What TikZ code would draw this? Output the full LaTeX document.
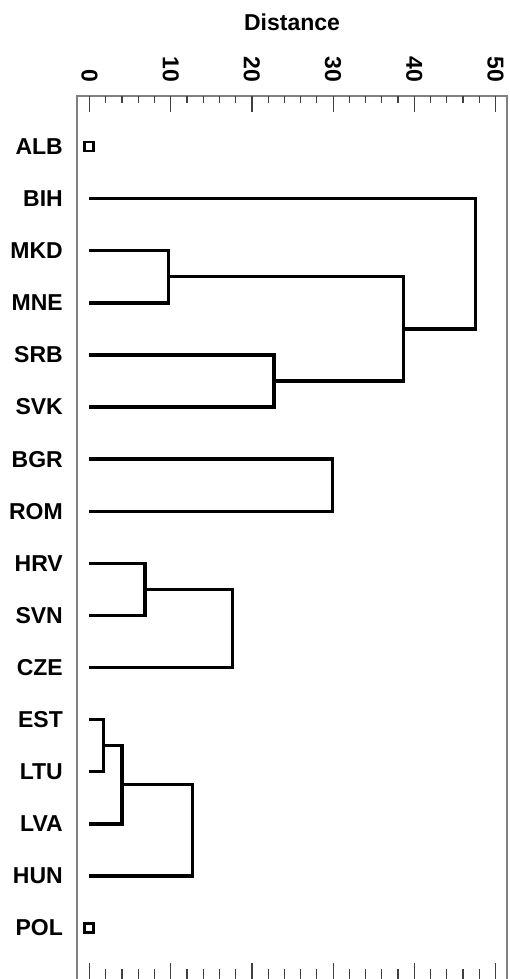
\documentclass[tikz,border=0pt]{standalone}
\usepackage{fontspec}
\setmainfont{Liberation Sans}
\usetikzlibrary{calc}

% merge of two clusters #2 and #3 at horizontal position #4, named #1
\newcommand\dendjoin[4]{%
  \path (#2) -- (#3) coordinate[midway] (#1-mid);
  \coordinate (#1-x) at (#4,0);
  \coordinate (#1) at (#1-x |- #1-mid);
  \draw[link] (#2) -| (#1) |- (#3);
}

\begin{document}
\begin{tikzpicture}[x=1pt,y=-1pt,
  txt/.style={font=\fontsize{23}{23}\selectfont\bfseries, inner sep=0pt, text=black},
  leaflabel/.style={txt, anchor=east},
  ticklabel/.style={txt, rotate=-90, anchor=east},
  link/.style={line width=3.4pt, black},
  frameline/.style={line width=1.1pt, black!50},
  tickline/.style={line width=1.2pt, black!75},
  leafmark/.style={draw, rectangle, line width=2.8pt, minimum size=9pt, inner sep=0pt}
]
\useasboundingbox (0,0) rectangle (509,979);

% title
\node[txt] (title) at (292,22) {Distance};

% plot frame (open at the bottom)
\draw[frameline] (77,979) -- (77,96) -- (507,96) -- (507,979);

% axis ticks and labels: distance d at x = 89.5 + 8.12 d
\foreach \d in {0,2,...,50} {
  \pgfmathsetmacro\xx{89.5+8.12*\d}
  \pgfmathtruncatemacro\ismajor{mod(\d,10)==0}
  \ifnum\ismajor=1
    \draw[tickline] (\xx,96) -- (\xx,112);
    \draw[tickline] (\xx,963) -- (\xx,979);
  \else
    \draw[tickline] (\xx,96) -- (\xx,103);
    \draw[tickline] (\xx,969) -- (\xx,979);
  \fi
}
\foreach \d in {0,10,...,50} {
  \pgfmathsetmacro\xx{89.5+8.12*\d}
  \node[ticklabel] (tick\d) at (\xx,82) {\d};
}

% leaves
\foreach \name [count=\i from 0] in {ALB,BIH,MKD,MNE,SRB,SVK,BGR,ROM,HRV,SVN,CZE,EST,LTU,LVA,HUN,POL} {
  \node[leaflabel] (l\name) at (63,{146.5+52.1*\i}) {\name};
  \coordinate (p\name) at (89,{146.5+52.1*\i});
}

% singletons
\node[leafmark] (sALB) at (pALB) {};
\node[leafmark] (sPOL) at (pPOL) {};

% upper group
\dendjoin{mMM}{pMKD}{pMNE}{168.3}
\dendjoin{mSS}{pSRB}{pSVK}{274}
\dendjoin{mMS}{mMM}{mSS}{403.3}
\dendjoin{mB}{pBIH}{mMS}{475.7}

% BGR, ROM
\dendjoin{mBR}{pBGR}{pROM}{332.7}

% HRV, SVN, CZE
\dendjoin{mHS}{pHRV}{pSVN}{145}
\dendjoin{mHC}{mHS}{pCZE}{232.3}

% baltic group and HUN
\dendjoin{mEL}{pEST}{pLTU}{103.3}
\dendjoin{mEV}{mEL}{pLVA}{122}
\dendjoin{mEH}{mEV}{pHUN}{192.3}

\end{tikzpicture}
\end{document}
